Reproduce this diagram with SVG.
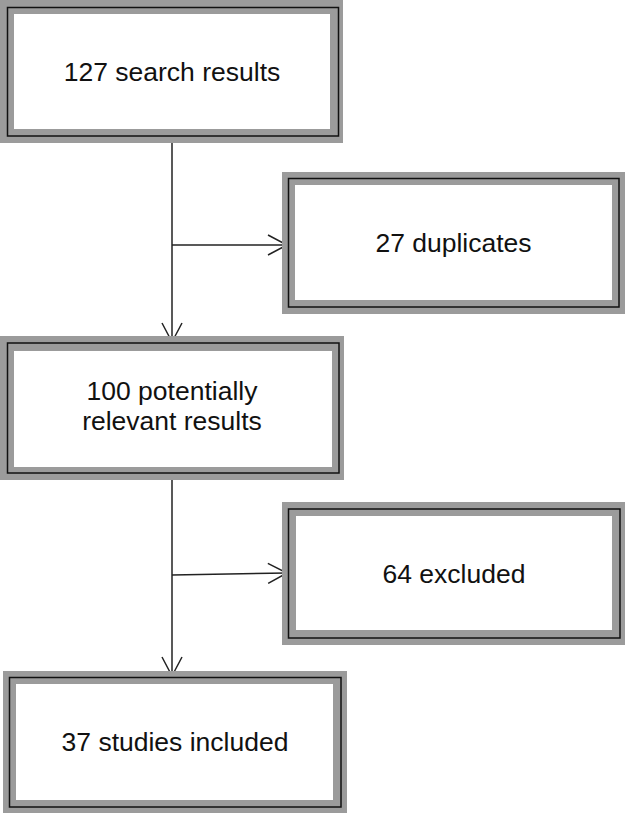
<svg xmlns="http://www.w3.org/2000/svg" width="626" height="814" viewBox="0 0 626 814">
<style>
.frame{fill:#9b9b9b}
.inner{fill:#fff}
.line{fill:none;stroke:#111;stroke-width:1.5}
.lbl{font-family:"Liberation Sans",Arial,sans-serif;font-size:26.5px;fill:#111;text-anchor:middle}
.conn{fill:none;stroke:#222;stroke-width:1.5}
</style>
<defs>
<marker id="arr" markerUnits="userSpaceOnUse" viewBox="-21 -12 23 24" markerWidth="23" markerHeight="24" refX="0" refY="0" orient="auto">
<path d="M-19,-10 L0,0 L-19,10" fill="none" stroke="#222" stroke-width="1.5"/>
</marker>
</defs>
<g id="connectors">
<path class="conn" d="M172,143 V342" marker-end="url(#arr)"/>
<path class="conn" d="M172,245 H287" marker-end="url(#arr)"/>
<path class="conn" d="M172,480 V676" marker-end="url(#arr)"/>
<path class="conn" d="M172,575 L287,573" marker-end="url(#arr)"/>
</g>
<g id="n1">
<rect class="frame" x="0" y="0" width="343" height="143"/>
<rect class="inner" x="14" y="14" width="316" height="115"/>
<rect class="line" x="7.5" y="7.5" width="331" height="128.5"/>
<text class="lbl" x="172" y="81">127 search results</text>
</g>
<g id="n2">
<rect class="frame" x="282" y="172" width="343" height="142"/>
<rect class="inner" x="295" y="185" width="317" height="115"/>
<rect class="line" x="288.5" y="178.5" width="330.5" height="128.5"/>
<text class="lbl" x="453.5" y="252">27 duplicates</text>
</g>
<g id="n3">
<rect class="frame" x="0" y="336" width="344" height="144"/>
<rect class="inner" x="14" y="351" width="318" height="116"/>
<rect class="line" x="7.5" y="343" width="331.5" height="130"/>
<text class="lbl" x="172" y="400">100 potentially</text>
<text class="lbl" x="172" y="430">relevant results</text>
</g>
<g id="n4">
<rect class="frame" x="282" y="502" width="343" height="143"/>
<rect class="inner" x="296" y="516" width="316" height="114"/>
<rect class="line" x="288.5" y="509" width="331.5" height="129"/>
<text class="lbl" x="454" y="583">64 excluded</text>
</g>
<g id="n5">
<rect class="frame" x="3" y="671" width="344" height="142"/>
<rect class="inner" x="16" y="684" width="317" height="116"/>
<rect class="line" x="9.5" y="677.5" width="331.5" height="129.5"/>
<text class="lbl" x="175" y="751">37 studies included</text>
</g>
</svg>
